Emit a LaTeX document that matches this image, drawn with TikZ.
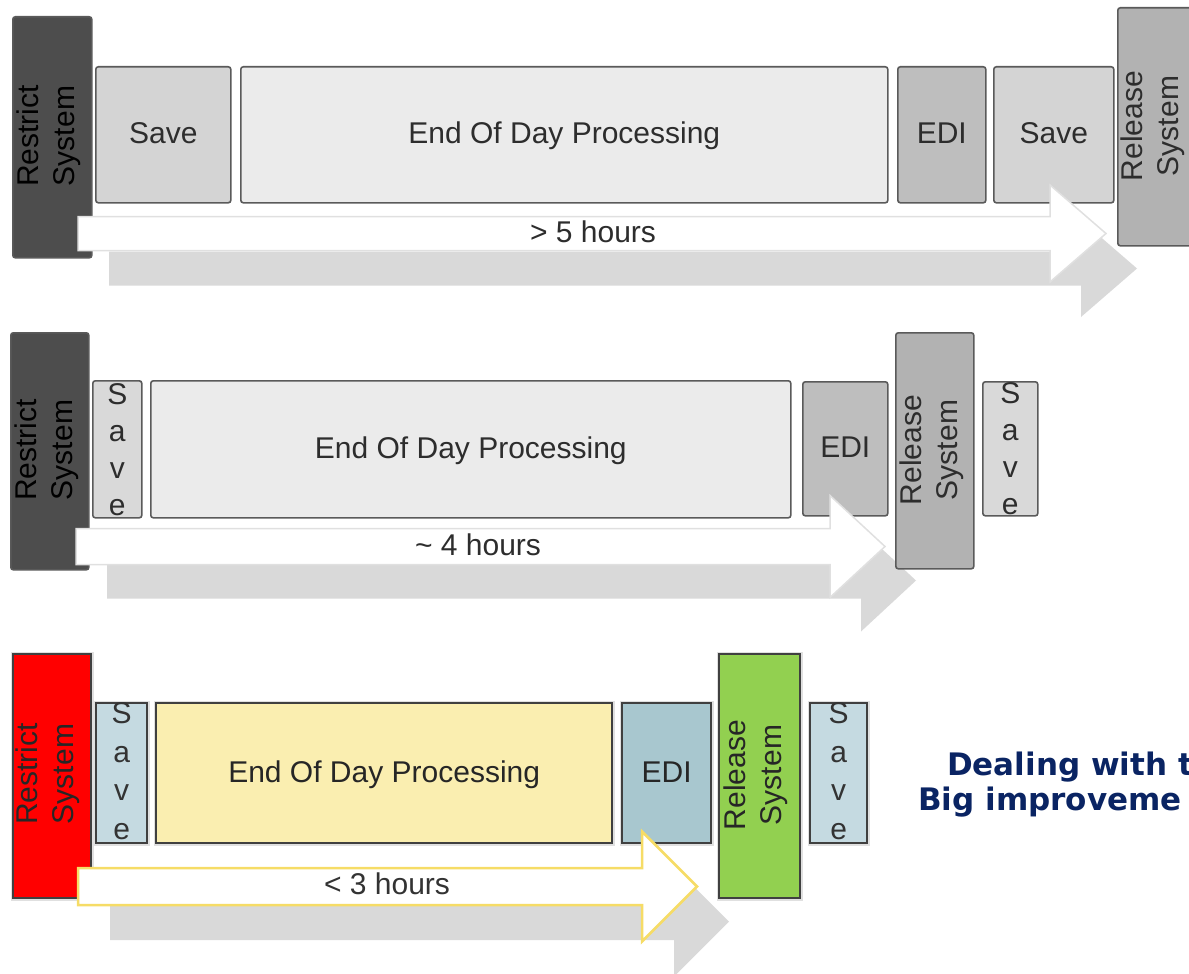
\documentclass[tikz,border=0pt]{standalone}
\usepackage{fontspec}
\setmainfont{Liberation Sans}
\newfontfamily\dejavu{DejaVu Sans}
\definecolor{darkbox}{RGB}{77,77,77}
\definecolor{boxline}{RGB}{90,90,90}
\definecolor{savegray}{RGB}{212,212,212}
\definecolor{eodgray}{RGB}{235,235,235}
\definecolor{edigray}{RGB}{190,190,190}
\definecolor{relgray}{RGB}{178,178,178}
\definecolor{shadowgray}{RGB}{217,217,217}
\definecolor{arrowedge}{RGB}{224,224,224}
\definecolor{txtgray}{RGB}{45,45,45}
\definecolor{c3line}{RGB}{64,64,64}
\definecolor{c3red}{RGB}{255,0,0}
\definecolor{c3save}{RGB}{197,218,225}
\definecolor{c3eod}{RGB}{250,238,176}
\definecolor{c3edi}{RGB}{168,199,207}
\definecolor{c3rel}{RGB}{146,208,80}
\definecolor{c3yellow}{RGB}{246,220,102}
\definecolor{navy}{RGB}{10,36,99}
\begin{document}
\begin{tikzpicture}[x=1pt,y=-1pt,
  box/.style={draw=boxline, line width=1.6pt, rounded corners=2.5pt, inner sep=0pt,
              anchor=north west, font=\fontsize{30}{36}\selectfont, text=txtgray,
              text height=21.5pt, text depth=3.5pt},
  cbox/.style={draw=c3line, line width=2.4pt, inner sep=0pt,
              anchor=north west, font=\fontsize{30}{36}\selectfont, text=black!85,
              text height=21.5pt, text depth=3.5pt,
              preaction={draw=black!12, line width=5pt}},
  vtext/.style={rotate=90, align=center, inner sep=0pt, font=\fontsize{30}{36}\selectfont, text=txtgray},
  stack/.style={align=center, inner sep=0pt, font=\fontsize{30}{37}\selectfont, text=txtgray},
  shadowarrow/.style={fill=shadowgray},
  whitearrow/.style={fill=white, draw=arrowedge, line width=1.5pt},
  yellowarrow/.style={fill=white, draw=c3yellow, line width=2.5pt},
  hours/.style={inner sep=0pt, font=\fontsize{30}{36}\selectfont, text=txtgray},
  note/.style={inner sep=0pt, anchor=base west, font=\dejavu\bfseries\fontsize{31}{36}\selectfont, text=navy}
]
\useasboundingbox (0,0) rectangle (1189,974);

% ---------- Row 1 ----------
\fill[shadowarrow, shift={(31,35)}] (78,216.5) -- (1050,216.5) -- (1050,185) -- (1106,233.5) -- (1050,282) -- (1050,250.5) -- (78,250.5) -- cycle;
\node[box, fill=darkbox, minimum width=79pt, minimum height=241pt] (r1) at (12,16) {};
\node[box, fill=savegray, minimum width=135pt, minimum height=136pt] (s1a) at (95,66) {Save};
\node[box, fill=eodgray, minimum width=647pt, minimum height=136pt] (e1) at (240,66) {End Of Day Processing};
\node[box, fill=edigray, minimum width=88pt, minimum height=136pt] (d1) at (897,66) {EDI};
\node[box, fill=savegray, minimum width=120pt, minimum height=136pt] (s1b) at (993,66) {Save};
\draw[whitearrow] (78,216.5) -- (1050,216.5) -- (1050,185) -- (1106,233.5) -- (1050,282) -- (1050,250.5) -- (78,250.5) -- cycle;
\node[box, fill=relgray, minimum width=78pt, minimum height=238pt] (l1) at (1117,7) {};
\node[vtext, text=black] (r1t) at (49,136) {Restrict\\System};
\node[vtext] (l1t) at (1153,126) {Release\\System};
\node[hours] (h1) at (593,232) {> 5 hours};

% ---------- Row 2 ----------
\fill[shadowarrow, shift={(31,34)}] (76,528.5) -- (830,528.5) -- (830,495.5) -- (885,546.5) -- (830,597.5) -- (830,564.5) -- (76,564.5) -- cycle;
\node[box, fill=darkbox, minimum width=78pt, minimum height=237pt] (r2) at (10,332) {};
\node[box, fill=shadowgray, minimum width=49pt, minimum height=137pt] (s2a) at (92,380) {};
\node[box, fill=eodgray, minimum width=640pt, minimum height=137pt] (e2) at (150,380) {End Of Day Processing};
\node[box, fill=edigray, minimum width=85pt, minimum height=134pt] (d2) at (802,381) {EDI};
\node[box, fill=shadowgray, minimum width=55pt, minimum height=134pt] (s2b) at (982,381) {};
\draw[whitearrow] (76,528.5) -- (830,528.5) -- (830,495.5) -- (885,546.5) -- (830,597.5) -- (830,564.5) -- (76,564.5) -- cycle;
\node[box, fill=relgray, minimum width=78pt, minimum height=236pt] (l2) at (895,332) {};
\node[vtext, text=black] (r2t) at (47,450) {Restrict\\System};
\node[vtext] (l2t) at (932,450) {Release\\System};
\node[stack] (s2at) at (s2a.center) {S\\a\\v\\e};
\node[stack] (s2bt) at (s2b.center) {S\\a\\v\\e};
\node[hours] (h2) at (478,545) {\textasciitilde\ 4 hours};

% ---------- Row 3 ----------
\fill[shadowarrow, shift={(32,35)}] (78,868) -- (642,868) -- (642,831.5) -- (697,886.5) -- (642,941.5) -- (642,905) -- (78,905) -- cycle;
\node[cbox, fill=c3red, minimum width=78pt, minimum height=244pt] (r3) at (12,653) {};
\node[cbox, fill=c3save, minimum width=51pt, minimum height=140pt] (s3a) at (95,702) {};
\node[cbox, fill=c3eod, minimum width=456pt, minimum height=140pt] (e3) at (155,702) {End Of Day Processing};
\node[cbox, fill=c3edi, minimum width=89pt, minimum height=140pt] (d3) at (621,702) {EDI};
\node[cbox, fill=c3save, minimum width=57pt, minimum height=140pt] (s3b) at (809,702) {};
\draw[yellowarrow] (78,868) -- (642,868) -- (642,831.5) -- (697,886.5) -- (642,941.5) -- (642,905) -- (78,905) -- cycle;
\node[cbox, fill=c3rel, minimum width=81pt, minimum height=244pt] (l3) at (718,653) {};
\node[vtext, text=black!85] (r3t) at (48,774) {Restrict\\System};
\node[vtext, text=black!85] (l3t) at (756,775) {Release\\System};
\node[stack, font=\fontsize{30}{38.5}\selectfont, text=black!80] (s3at) at ([yshift=2]s3a.center) {S\\a\\v\\e};
\node[stack, font=\fontsize{30}{38.5}\selectfont, text=black!80] (s3bt) at ([yshift=2]s3b.center) {S\\a\\v\\e};
\node[hours, text=black!80] (h3) at (387,884) {< 3 hours};

% ---------- Note ----------
\node[note] (n1) at (947,775) {Dealing with t};
\node[note] (n2) at (918,810) {Big improveme};
\end{tikzpicture}
\end{document}
